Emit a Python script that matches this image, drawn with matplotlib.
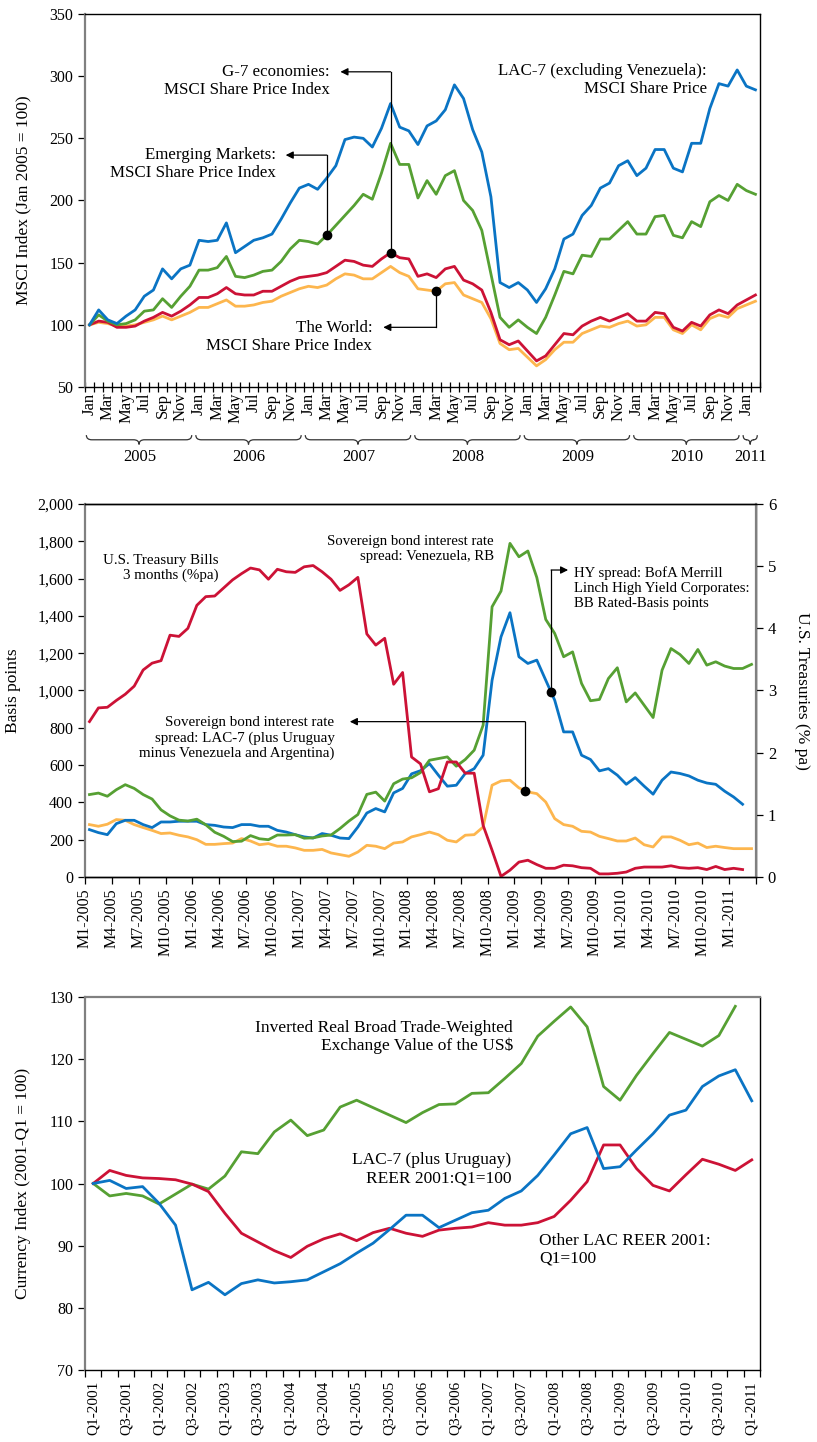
import numpy as np
import matplotlib
matplotlib.use("Agg")
import matplotlib.pyplot as plt
from matplotlib.path import Path
from matplotlib.patches import PathPatch
from matplotlib.ticker import FuncFormatter

plt.rcParams['font.family'] = ['Liberation Serif', 'DejaVu Serif']

# ---------------- top panel: MSCI share price indices (Jan 2005 = 100), Jan 2005 - Feb 2011
month_abbr = ['Jan', 'Feb', 'Mar', 'Apr', 'May', 'Jun',
              'Jul', 'Aug', 'Sep', 'Oct', 'Nov', 'Dec']
msci_years = ['2005', '2006', '2007', '2008', '2009', '2010', '2011']
msci_lac7 = [100, 112, 104, 101, 107, 112, 123, 128, 145, 137, 145, 148,
             168, 167, 168, 182, 158, 163, 168, 170, 173, 185, 198, 210,
             213, 209, 218, 228, 249, 251, 250, 243, 258, 278, 259, 256,
             245, 260, 264, 273, 293, 282, 257, 239, 203, 134, 130, 134,
             128, 118, 129, 145, 169, 173, 188, 196, 210, 214, 228, 232,
             220, 226, 241, 241, 226, 223, 246, 246, 274, 294, 292, 305,
             292, 289]
msci_em = [100, 108, 103, 100, 101, 104, 111, 112, 121, 114, 123, 131,
           144, 144, 146, 155, 139, 138, 140, 143, 144, 151, 161, 168,
           167, 165, 172, 180, 188, 196, 205, 201, 222, 246, 229, 229,
           202, 216, 205, 220, 224, 200, 192, 176, 141, 106, 98, 104,
           98, 93, 106, 124, 143, 141, 156, 155, 169, 169, 176, 183,
           173, 173, 187, 188, 172, 170, 183, 179, 199, 204, 200, 213,
           208, 205]
msci_g7 = [100, 103, 102, 98, 98, 99, 103, 106, 110, 107, 111, 116,
           122, 122, 125, 130, 125, 124, 124, 127, 127, 131, 135, 138,
           139, 140, 142, 147, 152, 151, 148, 147, 153, 158, 154, 153,
           139, 141, 138, 145, 147, 136, 133, 128, 110, 88, 84, 87,
           79, 71, 75, 84, 93, 92, 99, 103, 106, 103, 106, 109,
           103, 103, 110, 109, 98, 95, 102, 99, 108, 112, 109, 116,
           120, 124]
msci_world = [100, 102, 101, 99, 99, 100, 102, 104, 107, 104, 107, 110,
              114, 114, 117, 120, 115, 115, 116, 118, 119, 123, 126, 129,
              131, 130, 132, 137, 141, 140, 137, 137, 142, 147, 142, 139,
              129, 128, 127, 133, 134, 124, 121, 118, 105, 85, 80, 81,
              74, 67, 72, 80, 86, 86, 93, 96, 99, 98, 101, 103,
              99, 100, 106, 106, 96, 93, 100, 96, 105, 108, 106, 113,
              116, 119]

# ---------------- middle panel: spreads (bp) and T-bills (% pa), Jan 2005 - Mar 2011
spread_months = ['M%d-%d' % (m, y) for y in range(2005, 2012) for m in range(1, 13)][:75]
tbill_3m = [2.50, 2.72, 2.73, 2.84, 2.94, 3.07, 3.33, 3.44, 3.48, 3.89,
            3.87, 4.00, 4.37, 4.51, 4.52, 4.65, 4.78, 4.88, 4.97, 4.94,
            4.79, 4.95, 4.91, 4.90, 4.99, 5.01, 4.91, 4.79, 4.61, 4.70,
            4.82, 3.91, 3.73, 3.84, 3.10, 3.29, 1.93, 1.82, 1.37, 1.42,
            1.85, 1.85, 1.67, 1.67, 0.83, 0.43, 0.01, 0.11, 0.24, 0.27,
            0.20, 0.14, 0.14, 0.19, 0.18, 0.15, 0.14, 0.05, 0.05, 0.06,
            0.08, 0.14, 0.16, 0.16, 0.16, 0.18, 0.15, 0.14, 0.15, 0.12,
            0.17, 0.12, 0.14, 0.12]
hy_spread = [254, 238, 227, 286, 304, 304, 281, 265, 295, 295,
             299, 299, 299, 281, 277, 268, 265, 281, 281, 272,
             272, 250, 241, 227, 215, 209, 233, 224, 209, 206,
             268, 343, 367, 349, 451, 475, 553, 570, 608, 546,
             487, 492, 555, 581, 653, 1055, 1288, 1417, 1181, 1145,
             1163, 1055, 948, 778, 778, 653, 630, 569, 581, 546,
             497, 533, 487, 444, 519, 563, 555, 542, 519, 504,
             497, 460, 429, 390]
ven_spread = [442, 450, 433, 468, 495, 475, 442, 418, 360, 328,
              305, 300, 310, 280, 240, 218, 190, 192, 222, 205,
              200, 225, 225, 227, 208, 210, 220, 225, 260, 300,
              335, 443, 455, 407, 500, 525, 532, 560, 626, 635,
              644, 594, 630, 680, 814, 1449, 1533, 1789, 1717, 1748,
              1606, 1381, 1306, 1181, 1207, 1038, 945, 952, 1064, 1122,
              939, 987, 921, 855, 1109, 1225, 1193, 1145, 1220, 1136,
              1154, 1131, 1118, 1118, 1140]
lac7_spread = [281, 272, 283, 308, 304, 281, 265, 250, 233, 236,
               224, 215, 200, 175, 175, 179, 182, 206, 193, 173,
               179, 165, 165, 156, 143, 143, 148, 129, 120, 111,
               134, 170, 165, 152, 182, 188, 215, 227, 241, 227,
               197, 188, 224, 227, 268, 492, 515, 519, 478, 456,
               447, 402, 313, 281, 272, 245, 241, 218, 206, 193,
               193, 209, 173, 161, 215, 215, 197, 173, 182, 158,
               165, 158, 152, 152, 152]

# ---------------- bottom panel: currency indices (2001-Q1 = 100), Q1 2001 - Q1 2011
quarters = ['Q%d-%d' % (q, y) for y in range(2001, 2012) for q in range(1, 5)][:41]
reer_lac7 = [100, 100.5, 99.2, 99.5, 96.8, 93.3, 82.9, 84.1, 82.1, 83.9,
             84.5, 84.0, 84.2, 84.5, 85.8, 87.1, 88.8, 90.4, 92.6, 94.9,
             94.9, 92.9, 94.1, 95.3, 95.7, 97.6, 98.8, 101.3, 104.6, 108.0,
             109.0, 102.4, 102.7, 105.4, 108.0, 111.0, 111.8, 115.6, 117.3, 118.3,
             113.3]
reer_other = [100, 102.1, 101.3, 100.9, 100.8, 100.6, 99.9, 98.7, 95.2, 92.0,
              90.6, 89.2, 88.1, 89.9, 91.1, 91.9, 90.8, 92.1, 92.8, 92.0,
              91.5, 92.5, 92.8, 93.0, 93.7, 93.3, 93.3, 93.7, 94.7, 97.3,
              100.3, 106.2, 106.2, 102.4, 99.7, 98.8, 101.4, 103.9, 103.1, 102.1,
              103.8]
usd_inverted = [100, 98.0, 98.4, 98.0, 96.7, 98.3, 99.9, 99.1, 101.2, 105.1,
                104.8, 108.3, 110.2, 107.7, 108.6, 112.3, 113.4, 112.2, 111.0, 109.8,
                111.4, 112.7, 112.8, 114.5, 114.6, 116.9, 119.3, 123.7, 126.1, 128.4,
                125.2, 115.6, 113.4, 117.4, 120.9, 124.3, 123.2, 122.1, 123.8, 128.5]

BLUE = '#0a74c4'
GREEN = '#56a033'
RED = '#cc1236'
ORANGE = '#fdb64e'
LW = 2.0
GREY = '#808080'


def style_spines(ax, left_grey=True, top_grey=False):
    for side in ['top', 'right', 'bottom', 'left']:
        ax.spines[side].set_color('black')
        ax.spines[side].set_linewidth(1.0)
    if left_grey:
        ax.spines['left'].set_color(GREY)
        ax.spines['left'].set_linewidth(1.6)
    if top_grey:
        ax.spines['top'].set_color(GREY)
        ax.spines['top'].set_linewidth(1.6)


def elbow(ax, x_dot, y_dot, y_turn, x_tip):
    # dot on the line, vertical leg, then horizontal arrow to the label
    ax.plot([x_dot, x_dot], [y_dot, y_turn], color='black', lw=0.9, zorder=4)
    ax.annotate('', xy=(x_tip, y_turn), xytext=(x_dot, y_turn),
                arrowprops=dict(arrowstyle='-|>', color='black', lw=0.9,
                                shrinkA=0, shrinkB=0, mutation_scale=11),
                zorder=4)
    ax.plot([x_dot], [y_dot], 'o', color='black', ms=6, zorder=5)


def brace(ax, x0, x1, y_top, y_bot, d):
    xc = (x0 + x1) / 2
    ym = (y_top + y_bot) / 2
    verts = [(x0, y_top), (x0, ym), (x0 + d, ym), (xc - d, ym), (xc, ym), (xc, y_bot),
             (xc, ym), (xc + d, ym), (x1 - d, ym), (x1, ym), (x1, y_top)]
    codes = [Path.MOVETO, Path.CURVE3, Path.CURVE3, Path.LINETO, Path.CURVE3, Path.CURVE3,
             Path.CURVE3, Path.CURVE3, Path.LINETO, Path.CURVE3, Path.CURVE3]
    patch = PathPatch(Path(verts, codes), fill=False, lw=0.9, color='#333333',
                      transform=ax.get_xaxis_transform(), clip_on=False)
    ax.add_patch(patch)


fig = plt.figure(figsize=(8.17, 14.42), dpi=100)

# ======================= TOP =======================
ax1 = fig.add_axes([85 / 817, 1 - 387 / 1442, 675 / 817, 373 / 1442])
n1 = len(msci_lac7)
x1 = np.arange(n1)
ax1.plot(x1, msci_world, color=ORANGE, lw=LW)
ax1.plot(x1, msci_g7, color=RED, lw=LW)
ax1.plot(x1, msci_em, color=GREEN, lw=LW)
ax1.plot(x1, msci_lac7, color=BLUE, lw=LW)
ax1.set_xlim(-0.5, n1 - 0.5)
ax1.set_ylim(50, 350)
ax1.set_yticks(np.arange(50, 351, 50))
ax1.set_xticks(np.arange(-0.5, n1, 1))
ax1.set_xticklabels([])
ax1.tick_params(axis='x', which='major', direction='inout', length=7, width=0.9)
ax1.set_xticks(np.arange(0, n1, 2), minor=True)
ax1.set_xticklabels([month_abbr[i % 12] for i in range(0, n1, 2)], minor=True,
                    rotation=90, fontsize=12)
ax1.tick_params(axis='x', which='minor', length=0, pad=4)
ax1.tick_params(axis='y', direction='out', length=5, labelsize=11.5, width=0.9)
ax1.set_ylabel('MSCI Index (Jan 2005 = 100)', fontsize=12.5)
ax1.yaxis.set_label_coords(-0.080, 0.5)
style_spines(ax1)

for k, yr in enumerate(msci_years):
    start = 12 * k
    end = min(12 * k + 11, n1 - 1)
    brace(ax1, start - 0.5 + 0.15, end + 0.5 - 0.3, -0.129, -0.154,
          min(0.6, (end - start + 1) * 0.2))
    ax1.text((start + end) / 2, -0.187, yr, transform=ax1.get_xaxis_transform(),
             ha='center', va='center', fontsize=12)

ax1.text(26.3, 296, 'G-7 economies:\nMSCI Share Price Index', ha='right', va='center',
         fontsize=12.2, linespacing=1.17)
elbow(ax1, 33, msci_g7[33], 303.5, 27.5)
ax1.text(20.4, 229, 'Emerging Markets:\nMSCI Share Price Index', ha='right', va='center',
         fontsize=12.2, linespacing=1.17)
elbow(ax1, 26, msci_em[26], 236.5, 21.5)
ax1.text(31.0, 90.5, 'The World:\nMSCI Share Price Index', ha='right', va='center',
         fontsize=12.2, linespacing=1.17)
elbow(ax1, 38, msci_world[38], 98, 32.2)
ax1.text(67.7, 297, 'LAC-7 (excluding Venezuela):\nMSCI Share Price', ha='right',
         va='center', fontsize=12.2, linespacing=1.17)

# ======================= MIDDLE =======================
ax2 = fig.add_axes([85 / 817, 1 - 877 / 1442, 671 / 817, 373 / 1442])
ax2r = ax2.twinx()
n2 = len(spread_months)
x2 = np.arange(n2)
ax2.plot(x2, lac7_spread, color=ORANGE, lw=LW)
ax2.plot(x2[:len(hy_spread)], hy_spread, color=BLUE, lw=LW)
ax2.plot(x2, ven_spread, color=GREEN, lw=LW)
ax2r.plot(x2[:len(tbill_3m)], tbill_3m, color=RED, lw=LW)
ax2.set_xlim(-0.5, n2 - 0.5)
ax2.set_ylim(0, 2000)
ax2r.set_ylim(0, 6)
ax2.set_yticks(np.arange(0, 2001, 200))
ax2.yaxis.set_major_formatter(FuncFormatter(lambda v, p: '{:,.0f}'.format(v)))
ax2r.set_yticks(np.arange(0, 7, 1))
ticks2 = np.arange(-0.5, n2, 3)
ax2.set_xticks(ticks2)
ax2.set_xticklabels([spread_months[int(t + 0.5)] if int(t + 0.5) <= 72 else ''
                     for t in ticks2], rotation=90, fontsize=11.5)
ax2.tick_params(axis='x', direction='out', length=5, width=0.9, pad=3)
ax2.tick_params(axis='y', direction='out', length=5, labelsize=11.5, width=0.9)
ax2r.tick_params(axis='y', direction='out', length=5, labelsize=12, width=0.9)
ax2.set_ylabel('Basis points', fontsize=12.5)
ax2.yaxis.set_label_coords(-0.095, 0.5)
ax2r.set_ylabel('U.S. Treasuries (% pa)', fontsize=12.5, rotation=-90)
ax2r.yaxis.set_label_coords(1.080, 0.5)
style_spines(ax2)
style_spines(ax2r, left_grey=False)
ax2r.spines['left'].set_visible(False)
ax2r.spines['right'].set_color(GREY)
ax2r.spines['right'].set_linewidth(1.6)

ax2.text(14.4, 1657, 'U.S. Treasury Bills\n3 months (%pa)', ha='right', va='center',
         fontsize=10.8, linespacing=1.2)
ax2.text(45.2, 1758, 'Sovereign bond interest rate\nspread: Venezuela, RB', ha='right',
         va='center', fontsize=10.6, linespacing=1.2)
ax2.text(54.2, 1550, 'HY spread: BofA Merrill\nLinch High Yield Corporates:\nBB Rated-Basis points',
         ha='left', va='center', fontsize=10.6, linespacing=1.2)
ax2.text(27.4, 744, 'Sovereign bond interest rate\nspread: LAC-7 (plus Uruguay\nminus Venezuela and Argentina)',
         ha='right', va='center', fontsize=10.8, linespacing=1.2)
hy_x = 51.6
elbow(ax2, hy_x, np.interp(hy_x, x2[:len(hy_spread)], hy_spread), 1646, 53.5)
lac_x = 48.7
elbow(ax2, lac_x, np.interp(lac_x, x2, lac7_spread), 833, 29.1)

# ======================= BOTTOM =======================
ax3 = fig.add_axes([85 / 817, 1 - 1370 / 1442, 675 / 817, 373 / 1442])
n3 = len(quarters)
x3 = np.arange(n3)
ax3.plot(x3[:len(usd_inverted)], usd_inverted, color=GREEN, lw=LW)
ax3.plot(x3, reer_other, color=RED, lw=LW)
ax3.plot(x3, reer_lac7, color=BLUE, lw=LW)
ax3.set_xlim(-0.5, n3 - 0.5)
ax3.set_ylim(70, 130)
ax3.set_yticks(np.arange(70, 131, 10))
ax3.set_xticks(np.arange(-0.5, n3, 1))
ax3.set_xticklabels([])
ax3.tick_params(axis='x', which='major', direction='out', length=5, width=0.9)
ax3.set_xticks(np.arange(0, n3, 2), minor=True)
ax3.set_xticklabels([quarters[i] for i in range(0, n3, 2)], minor=True,
                    rotation=90, fontsize=11)
ax3.tick_params(axis='x', which='minor', length=0, pad=8)
ax3.tick_params(axis='y', direction='out', length=5, labelsize=11.5, width=0.9)
ax3.set_ylabel('Currency Index (2001-Q1 = 100)', fontsize=12.5)
ax3.yaxis.set_label_coords(-0.080, 0.5)
style_spines(ax3, top_grey=True)

ax3.text(25.5, 123.6, 'Inverted Real Broad Trade-Weighted\nExchange Value of the US$',
         ha='right', va='center', fontsize=12.5, linespacing=1.15)
ax3.text(25.4, 102.3, 'LAC-7 (plus Uruguay)\nREER 2001:Q1=100', ha='right', va='center',
         fontsize=12.5, linespacing=1.15)
ax3.text(27.1, 89.3, 'Other LAC REER 2001:\nQ1=100', ha='left', va='center',
         fontsize=12.5, linespacing=1.15)

fig.savefig('out.png', dpi=100)
